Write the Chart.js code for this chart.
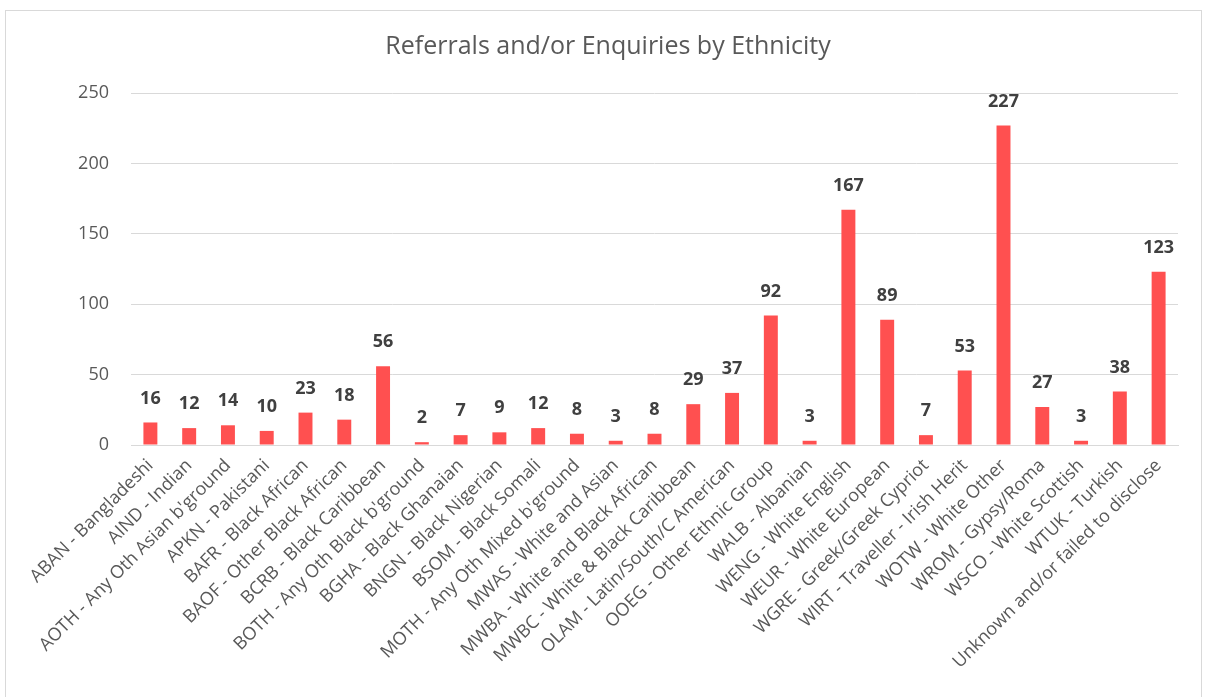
<!DOCTYPE html>
<html>
<head>
<meta charset="utf-8">
<script src="https://cdn.jsdelivr.net/npm/chart.js@4.4.1/dist/chart.umd.min.js"></script>
<style>
  html, body { margin: 0; padding: 0; background: #ffffff; }
  #frame { position: absolute; left: 5px; top: 10px; width: 1197px; height: 700px; border: 1px solid #d9d9d9; box-sizing: border-box; }
  #wrap { position: absolute; left: 0; top: 0; width: 1208px; height: 697px; }
</style>
</head>
<body>
<div id="frame"></div>
<div id="wrap"><canvas id="chart" width="1208" height="697"></canvas></div>
<script>
const categories = [
  "ABAN - Bangladeshi",
  "AIND - Indian",
  "AOTH - Any Oth Asian b'ground",
  "APKN - Pakistani",
  "BAFR - Black African",
  "BAOF - Other Black African",
  "BCRB - Black Caribbean",
  "BOTH - Any Oth Black b'ground",
  "BGHA - Black Ghanaian",
  "BNGN - Black Nigerian",
  "BSOM - Black Somali",
  "MOTH - Any Oth Mixed b'ground",
  "MWAS - White and Asian",
  "MWBA - White and Black African",
  "MWBC - White & Black Caribbean",
  "OLAM - Latin/South/C American",
  "OOEG - Other Ethnic Group",
  "WALB - Albanian",
  "WENG - White English",
  "WEUR - White European",
  "WGRE - Greek/Greek Cypriot",
  "WIRT - Traveller - Irish Herit",
  "WOTW - White Other",
  "WROM - Gypsy/Roma",
  "WSCO - White Scottish",
  "WTUK - Turkish",
  "Unknown and/or failed to disclose"
];
const counts = [16, 12, 14, 10, 23, 18, 56, 2, 7, 9, 12, 8, 3, 8, 29, 37, 92, 3, 167, 89, 7, 53, 227, 27, 3, 38, 123];
const yTicks = [0, 50, 100, 150, 200, 250];

const FONT = "'Open Sans', 'DejaVu Sans', sans-serif";
const TEXT = '#595959';

// Bold value above each bar
const valueLabels = {
  id: 'valueLabels',
  afterDatasetsDraw(chart) {
    const ctx = chart.ctx;
    const meta = chart.getDatasetMeta(0);
    ctx.save();
    ctx.font = 'bold 18px ' + FONT;
    ctx.fillStyle = '#404040';
    ctx.textAlign = 'center';
    ctx.textBaseline = 'middle';
    meta.data.forEach((bar, i) => {
      ctx.fillText(String(chart.data.datasets[0].data[i]), bar.x, bar.y - 24);
    });
    ctx.restore();
  }
};

new Chart(document.getElementById('chart'), {
  type: 'bar',
  data: {
    labels: categories,
    datasets: [{
      data: counts,
      backgroundColor: '#ff5050',
      barPercentage: 0.36,
      categoryPercentage: 1.0
    }]
  },
  options: {
    responsive: false,
    animation: false,
    layout: { padding: { top: 24, right: 30, left: 38, bottom: 0 } },
    plugins: {
      legend: { display: false },
      tooltip: { enabled: false },
      title: {
        display: true,
        text: 'Referrals and/or Enquiries by Ethnicity',
        color: TEXT,
        font: { family: FONT, size: 25, weight: 'normal' },
        padding: { top: 8, bottom: 31 }
      }
    },
    scales: {
      x: {
        grid: { display: false, drawTicks: false },
        border: { display: true, color: '#d9d9d9', width: 1 },
        ticks: {
          autoSkip: false,
          minRotation: 45,
          maxRotation: 45,
          padding: 10,
          color: TEXT,
          font: { family: FONT, size: 18 }
        },
        afterFit(scale) { scale.height = 252; }
      },
      y: {
        min: 0,
        max: 250,
        afterBuildTicks(scale) { scale.ticks = yTicks.map(v => ({ value: v })); },
        grid: { color: '#d9d9d9', drawTicks: false },
        border: { display: false },
        ticks: {
          padding: 22,
          color: TEXT,
          font: { family: FONT, size: 18 }
        },
        afterFit(scale) { scale.width = 93; }
      }
    }
  },
  plugins: [valueLabels]
});
</script>
</body>
</html>
